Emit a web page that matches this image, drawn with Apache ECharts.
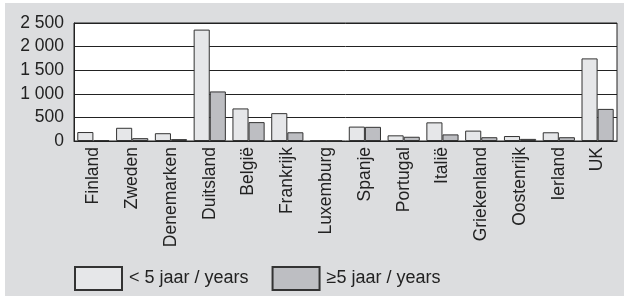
<!DOCTYPE html>
<html><head><meta charset="utf-8">
<script src="https://cdn.jsdelivr.net/npm/echarts@6/dist/echarts.min.js"></script>
<style>html,body{margin:0;padding:0;background:#fff}#c{width:626px;height:300px}</style>
</head><body><div id="c"></div>
<script>
const categories = ["Finland","Zweden","Denemarken","Duitsland","België","Frankrijk","Luxemburg","Spanje","Portugal","Italië","Griekenland","Oostenrijk","Ierland","UK"];
const under5 = [190,280,165,2360,690,590,8,305,120,395,220,105,185,1750];
const over5 = [20,60,40,1050,400,185,6,300,90,140,80,45,80,680];
const seriesNames = ["< 5 jaar / years","≥5 jaar / years"];
const yTicks = [0,500,1000,1500,2000,2500];

const font = "'Liberation Sans', Arial, Helvetica, sans-serif";
const chart = echarts.init(document.getElementById('c'), null, {renderer:'canvas'});
chart.setOption({
  animation:false,
  backgroundColor:'#fff',
  graphic:[{type:'rect', z:-100, silent:true, shape:{x:5,y:3,width:619,height:293}, style:{fill:'#dcdddf'}}],
  grid:{left:74, top:23, right:9, bottom:159, show:true, backgroundColor:'#fff', borderColor:'#222', borderWidth:1},
  legend:{left:69, top:261, itemWidth:47, itemHeight:23, itemGap:23, icon:'rect',
    textStyle:{fontFamily:font, fontSize:18, color:'#222', padding:[0,0,0,2]},
    data:seriesNames},
  xAxis:{type:'category', data:categories,
    axisLine:{show:true, lineStyle:{color:'#222', width:1}},
    axisTick:{show:false},
    axisLabel:{rotate:90, interval:0, margin:6, fontFamily:font, fontSize:17.5, color:'#222'}},
  yAxis:{type:'value', min:yTicks[0], max:yTicks[yTicks.length-1], interval:500,
    axisLine:{show:true, lineStyle:{color:'#222', width:1}},
    axisTick:{show:false},
    splitLine:{show:true, lineStyle:{color:'#222', width:1}},
    axisLabel:{margin:10, fontFamily:font, fontSize:17.5, color:'#222',
      formatter:v=>String(v).replace(/\B(?=(\d{3})+(?!\d))/g,' ')}},
  series:[
    {name:seriesNames[0], type:'bar', data:under5, barGap:'0%', barCategoryGap:'17%',
     itemStyle:{color:'#e6e7e9', borderColor:'#333', borderWidth:1}},
    {name:seriesNames[1], type:'bar', data:over5, barGap:'0%', barCategoryGap:'17%',
     itemStyle:{color:'#bdbec2', borderColor:'#333', borderWidth:1}}
  ]
});
</script></body></html>
